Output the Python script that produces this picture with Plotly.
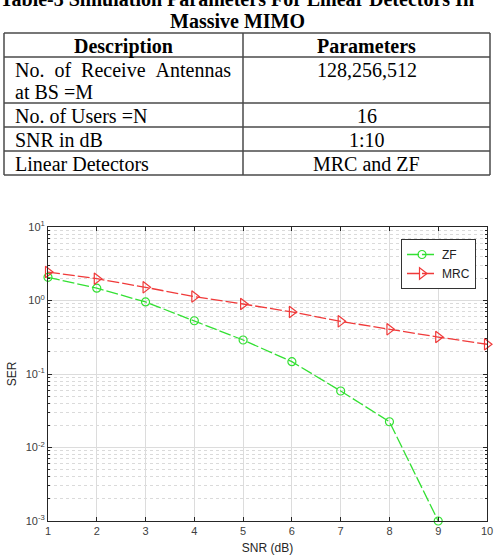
import plotly.graph_objects as go

# ---- data ----
snr_db = [1, 2, 3, 4, 5, 6, 7, 8, 9, 10]
ser_zf = [2.07, 1.47, 0.955, 0.53, 0.29, 0.147, 0.0587, 0.0224, 0.001, None]
ser_mrc = [2.44, 1.98, 1.51, 1.13, 0.896, 0.698, 0.52, 0.405, 0.318, 0.254]

table_header = ["Description", "Parameters"]
table_desc = ["No.&nbsp;&nbsp;of&nbsp;&nbsp;Receive&nbsp;&nbsp;Antennas<br>at BS =M",
              "No. of Users =N", "SNR in dB", "Linear Detectors"]
table_params = ["128,256,512", "16", "1:10", "MRC and ZF"]
title_lines = ["Table-3 Simulation Parameters For Linear Detectors In", "Massive MIMO"]

y_tickvals = [1e-3, 1e-2, 1e-1, 1e0, 1e1]
y_ticktext = ["10<sup>-3</sup>", "10<sup>-2</sup>", "10<sup>-1</sup>", "10<sup>0</sup>", "10<sup>1</sup>"]
y_minor = [m * 10 ** e for e in range(-3, 1) for m in range(2, 10)]

W, H = 497, 555
SERIF = "Liberation Serif"
SANS = "Liberation Sans"

fig = go.Figure()

# ---- title above table ----
for i, t in enumerate(title_lines):
    fig.add_annotation(text="<b>" + t + "</b>", xref="paper", yref="paper",
                       x=237 / W, y=(H - (-1 + 22 * i)) / H, xanchor="center", yanchor="middle",
                       showarrow=False, font=dict(family=SERIF, size=20, color="black"))

# ---- table built from shapes + annotations ----
TX0, TX1, TCOL = 4, 490, 243
TY0 = 33
LINE_H = 22
ROW_PAD = 2
border = dict(color="#4a4a4a", width=1.5)

rows = [(table_header[0], table_header[1], True)] + \
       [(d, p, False) for d, p in zip(table_desc, table_params)]

def px_x(v):
    return v / W

def px_y(v):
    return (H - v) / H

y = TY0
row_edges = [y]
for desc, par, bold in rows:
    n_lines = max(desc.count("<br>"), par.count("<br>")) + 1
    h = LINE_H * n_lines + ROW_PAD
    for k, line in enumerate(desc.split("<br>")):
        txt = "<b>" + line + "</b>" if bold else line
        fig.add_annotation(text=txt, xref="paper", yref="paper",
                           x=px_x((TX0 + TCOL) / 2) if bold else px_x(TX0 + 9),
                           xanchor="center" if bold else "left",
                           y=px_y(y + ROW_PAD / 2 + LINE_H * k + LINE_H / 2 + 1), yanchor="middle",
                           showarrow=False, font=dict(family=SERIF, size=20, color="black"))
    for k, line in enumerate(par.split("<br>")):
        txt = "<b>" + line + "</b>" if bold else line
        fig.add_annotation(text=txt, xref="paper", yref="paper",
                           x=px_x((TCOL + TX1) / 2), xanchor="center",
                           y=px_y(y + ROW_PAD / 2 + LINE_H * k + LINE_H / 2 + 1), yanchor="middle",
                           showarrow=False, font=dict(family=SERIF, size=20, color="black"))
    y += h
    row_edges.append(y)

for ye in row_edges:
    fig.add_shape(type="line", xref="paper", yref="paper",
                  x0=px_x(TX0), x1=px_x(TX1), y0=px_y(ye), y1=px_y(ye), line=border)
for xe in (TX0, TCOL, TX1):
    fig.add_shape(type="line", xref="paper", yref="paper",
                  x0=px_x(xe), x1=px_x(xe), y0=px_y(row_edges[0]), y1=px_y(row_edges[-1]), line=border)

# ---- chart ----
fig.add_trace(go.Scatter(
    x=snr_db, y=ser_zf, name="ZF", mode="lines+markers", cliponaxis=False,
    line=dict(color="#33e033", width=1.3, dash="12px,3px"),
    marker=dict(symbol="circle-open", size=8, color="#33e033", line=dict(width=1.2)),
))
fig.add_trace(go.Scatter(
    x=snr_db, y=ser_mrc, name="MRC", mode="lines+markers", cliponaxis=False,
    line=dict(color="#f03a3a", width=1.3, dash="12px,3px"),
    marker=dict(symbol="triangle-right-open", size=10, color="#f03a3a", line=dict(width=1.2)),
))

fig.update_layout(
    width=W, height=H, margin=dict(l=0, r=0, t=0, b=0),
    paper_bgcolor="white", plot_bgcolor="white",
    showlegend=True,
    legend=dict(x=476 / W, y=(H - 239) / H, xanchor="right", yanchor="top",
                bgcolor="white", bordercolor="#333", borderwidth=1,
                font=dict(family=SANS, size=12, color="#222"),
                tracegroupgap=0, itemwidth=30),
    xaxis=dict(domain=[48 / W, 487 / W], range=[1, 10], dtick=1, tick0=1,
               showline=True, linecolor="#262626", linewidth=1, mirror="ticks",
               ticks="inside", ticklen=4, tickcolor="#262626",
               showgrid=True, gridcolor="#dcdcdc", gridwidth=1, zeroline=False,
               tickfont=dict(family=SANS, size=11, color="#404040"),
               title=dict(text="SNR (dB)", font=dict(family=SANS, size=12, color="#262626"), standoff=12),
               automargin=False),
    yaxis=dict(domain=[34 / H, (H - 227) / H], type="log", range=[-3, 1],
               tickvals=y_tickvals, ticktext=y_ticktext,
               showline=True, linecolor="#262626", linewidth=1, mirror="ticks",
               ticks="inside", ticklen=4, tickcolor="#262626",
               showgrid=True, gridcolor="#dcdcdc", gridwidth=1, zeroline=False,
               minor=dict(tickvals=y_minor, ticks="inside", ticklen=2, tickcolor="#262626",
                          showgrid=True, gridcolor="#dadada", griddash="dot", gridwidth=1),
               tickfont=dict(family=SANS, size=11, color="#404040"),
               title=dict(text="SER", font=dict(family=SANS, size=12, color="#262626"), standoff=6),
               automargin=False),
)

fig.write_html("out.html")
